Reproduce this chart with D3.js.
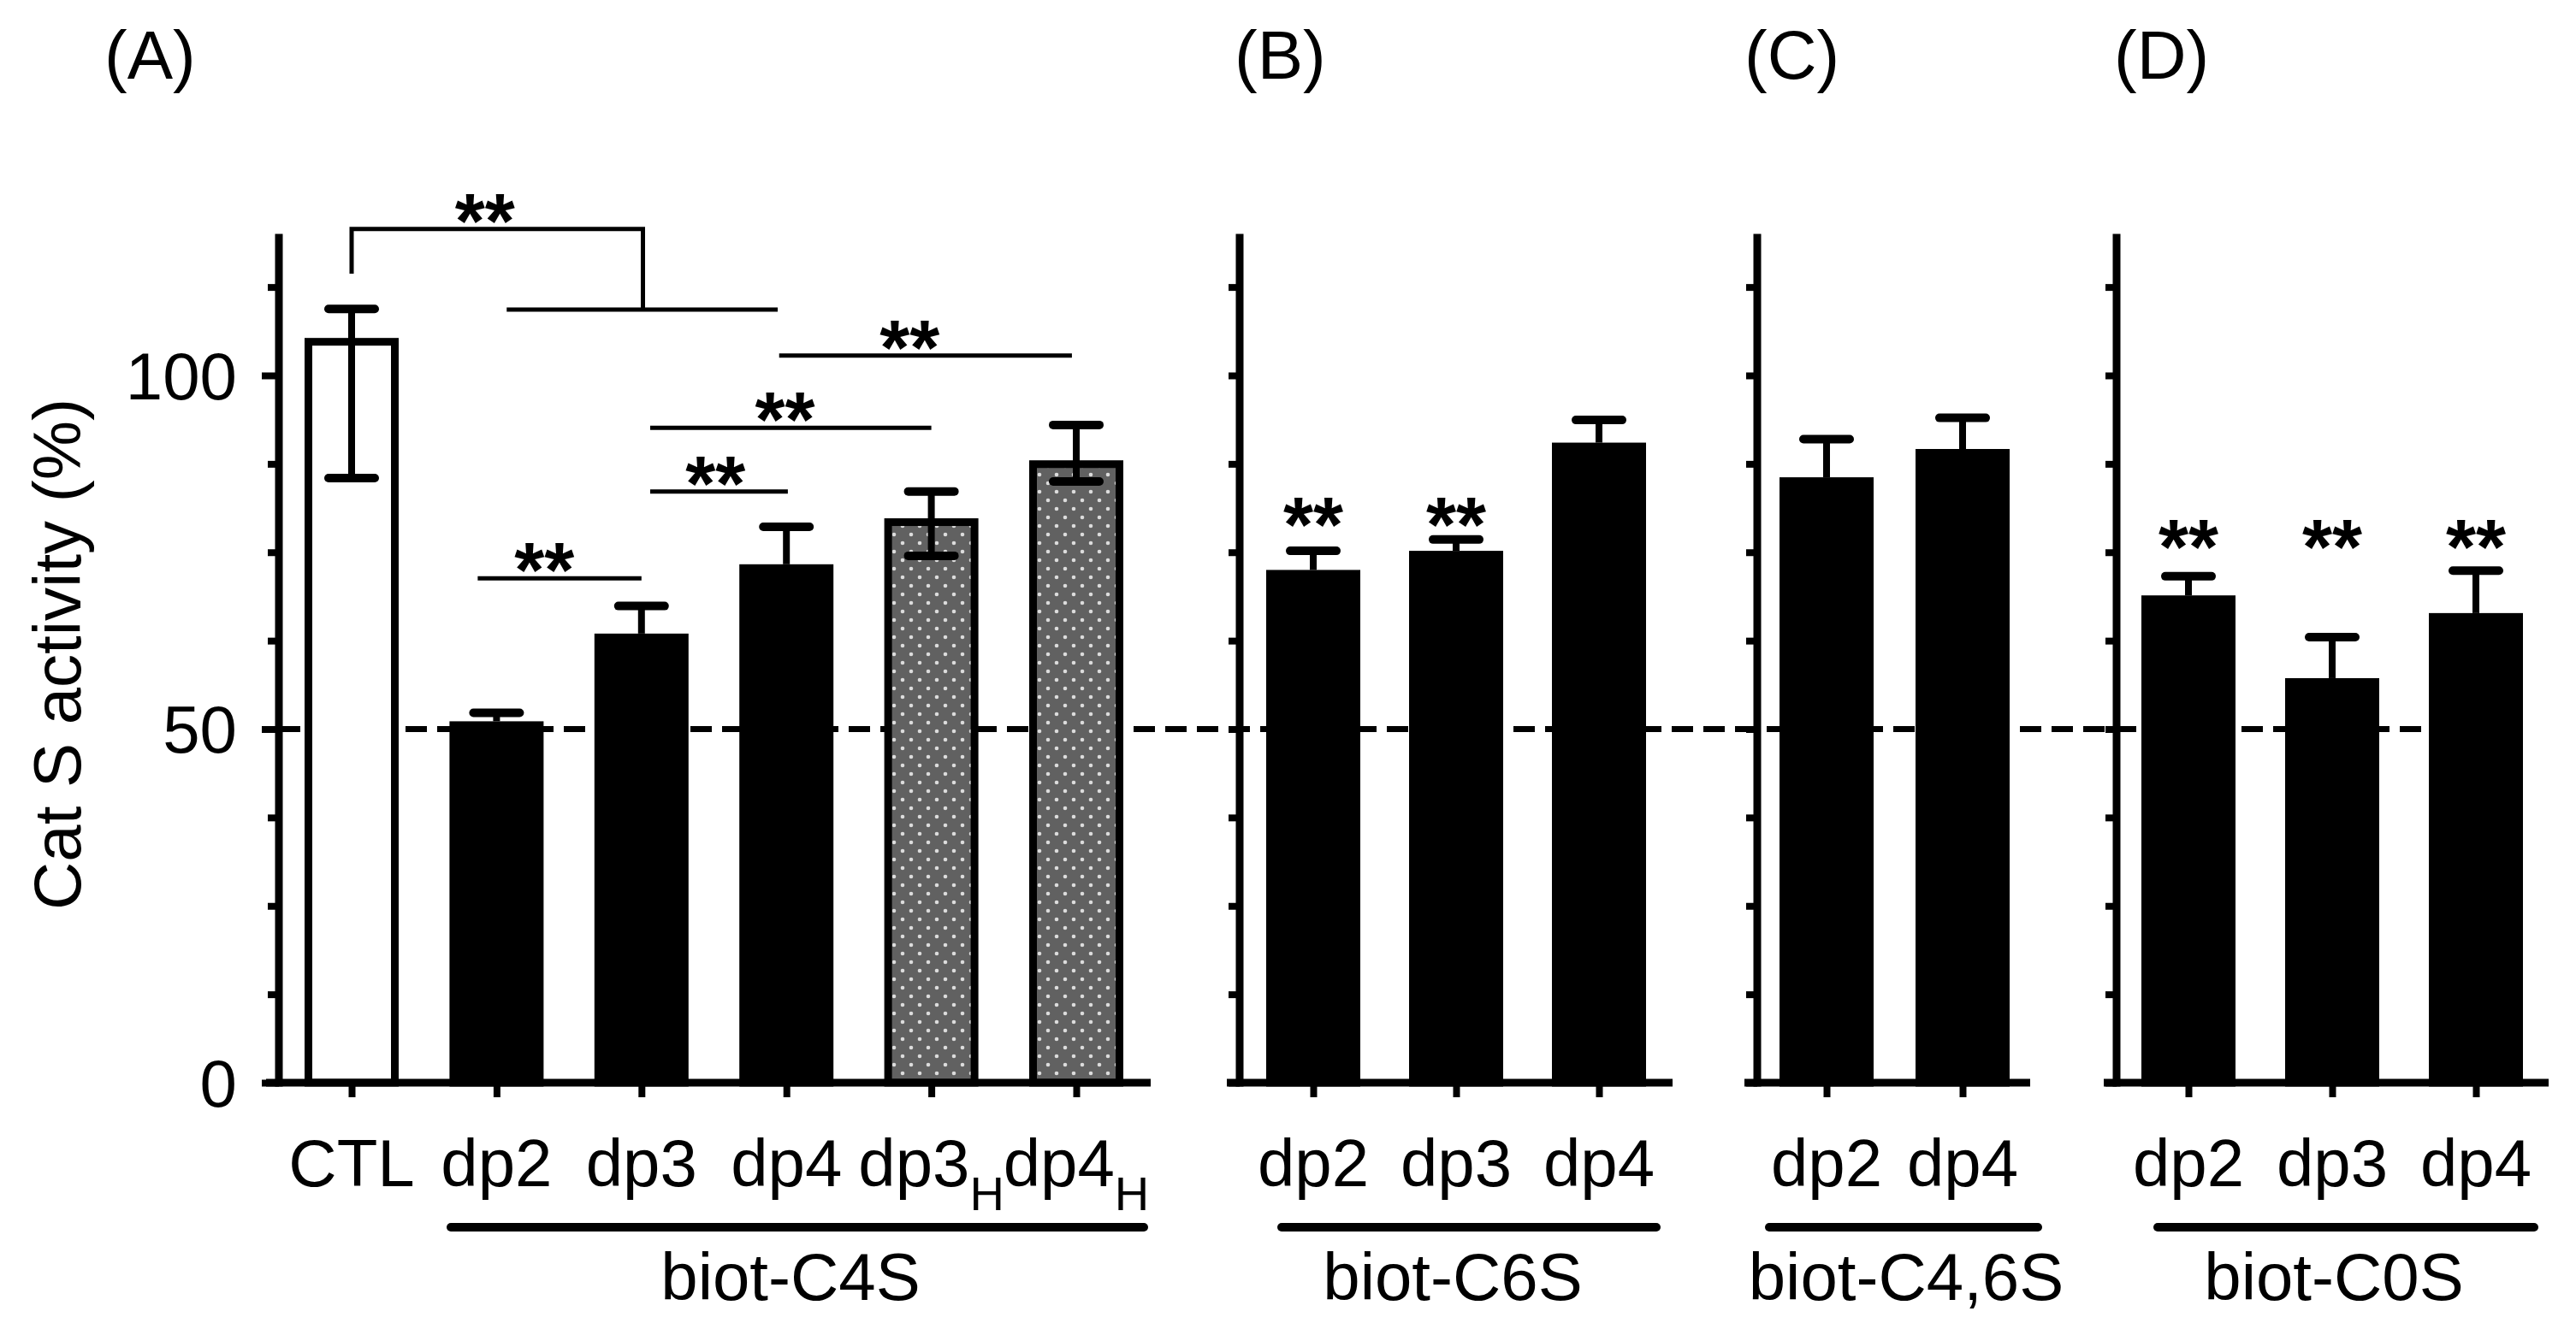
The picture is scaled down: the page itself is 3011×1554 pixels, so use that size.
<!DOCTYPE html>
<html lang="en">
<head>
  <meta charset="UTF-8" />
  <title>Cat S activity</title>
  <script src="https://d3js.org/d3.v7.min.js"></script>
  <style>
    body { margin: 0; background: #fff; }
    svg { display: block; }
    text { font-family: 'Liberation Sans', Arial, sans-serif; fill: #000; }
  </style>
</head>
<body>
  <svg id="chart"></svg>

  <script>
    // ---- data ----
    const catsA  = ["CTL", "dp2", "dp3", "dp4", "dp3_H", "dp4_H"];
    const meanA  = [105.3, 51.1, 63.5, 73.3, 79.8, 88.0];
    const upperA = [109.4, 52.3, 67.4, 78.6, 83.6, 93.0];
    const lowerA = [85.5, null, null, null, 74.5, 85.0];

    const catsB  = ["dp2", "dp3", "dp4"];
    const meanB  = [72.5, 75.2, 90.5];
    const upperB = [75.2, 76.8, 93.7];

    const catsC  = ["dp2", "dp4"];
    const meanC  = [85.6, 89.6];
    const upperC = [91.0, 94.0];

    const catsD  = ["dp2", "dp3", "dp4"];
    const meanD  = [68.9, 57.2, 66.4];
    const upperD = [71.6, 63.0, 72.4];

    const panelNames = ["(A)", "(B)", "(C)", "(D)"];
    const groupNames = ["biot-C4S", "biot-C6S", "biot-C4,6S", "biot-C0S"];

    const yTicks  = d3.range(0, 120, 12.5);
    const yLabels = [0, 50, 100];
    const refLevel = 50;

    // panel A comparisons: [from index, to index, level, star index]
    const sigA = [
      [0.87, 2.0, 71.3, 1.33],
      [2.06, 3.01, 83.6, 2.51],
      [2.06, 4.0, 92.6, 2.99],
      [2.95, 4.97, 102.8, 3.85]
    ];
    // CTL vs the dp2..dp4 group
    const bracketA = { leg: 114.4, top: 120.7, to: 2.01, drop: 109.3, span: [1.07, 2.94], star: 0.92 };

    const starsB = ["dp2", "dp3"], starLevelB = 75.1;
    const starsD = ["dp2", "dp3", "dp4"], starLevelD = 72.0;

    // ---- layout ----
    const W = 3011, H = 1554;
    const barW = 101, barStroke = 9, axisStroke = 9;
    const fontSize = 78;

    const svg = d3.select("#chart").attr("width", W).attr("height", H);
    const y = d3.scaleLinear().domain([0, 120]).range([1266, 273.6]);

    const panels = [
      { cats: catsA, mean: meanA, upper: upperA, lower: lowerA, axisX: 326, range: [411, 1258], xEnd: 1345, line: [527, 1337], groupX: 924, labelX: 122, ticks: true },
      { cats: catsB, mean: meanB, upper: upperB, lower: null, axisX: 1449, range: [1535, 1869], xEnd: 1955, line: [1498, 1936], groupX: 1698, labelX: 1443 },
      { cats: catsC, mean: meanC, upper: upperC, lower: null, axisX: 2054, range: [2135, 2294], xEnd: 2373, line: [2068, 2382], groupX: 2228, labelX: 2039 },
      { cats: catsD, mean: meanD, upper: upperD, lower: null, axisX: 2474, range: [2558, 2894], xEnd: 2979, line: [2522, 2962], groupX: 2728, labelX: 2471 }
    ];
    panels.forEach(p => { p.x = d3.scalePoint().domain(p.cats).range(p.range); });

    const barStyle = { "CTL": "#fff", "dp3_H": "url(#dots)", "dp4_H": "url(#dots)" };

    // dotted fill
    const pat = svg.append("defs").append("pattern")
      .attr("id", "dots").attr("width", 20).attr("height", 20)
      .attr("patternUnits", "userSpaceOnUse");
    pat.append("rect").attr("width", 20).attr("height", 20).attr("fill", "#616161");
    pat.append("circle").attr("cx", 5).attr("cy", 5).attr("r", 2.3).attr("fill", "#dcdcdc");
    pat.append("circle").attr("cx", 15).attr("cy", 15).attr("r", 2.3).attr("fill", "#dcdcdc");

    // dashed reference line at 50%, behind the bars
    svg.append("line")
      .attr("x1", panels[0].axisX).attr("x2", 2850)
      .attr("y1", y(refLevel)).attr("y2", y(refLevel))
      .attr("stroke", "#000").attr("stroke-width", 7)
      .attr("stroke-dasharray", "25,12");

    panels.forEach((p, pi) => {
      const g = svg.append("g");
      const rows = p.cats.map((c, i) => ({
        cat: c, mean: p.mean[i], upper: p.upper[i], lower: p.lower ? p.lower[i] : null
      }));

      // bars
      g.selectAll("rect.bar").data(rows).join("rect")
        .attr("class", "bar")
        .attr("x", d => p.x(d.cat) - barW / 2)
        .attr("y", d => y(d.mean) + barStroke / 2)
        .attr("width", barW)
        .attr("height", d => y(0) - y(d.mean) - barStroke / 2)
        .attr("fill", d => barStyle[d.cat] || "#000")
        .attr("stroke", "#000").attr("stroke-width", barStroke);

      // error bars
      const eb = g.selectAll("g.err").data(rows).join("g").attr("class", "err")
        .attr("stroke", "#000");
      eb.append("line")
        .attr("x1", d => p.x(d.cat)).attr("x2", d => p.x(d.cat))
        .attr("y1", d => y(d.upper))
        .attr("y2", d => d.lower == null ? y(d.mean) : y(d.lower))
        .attr("stroke-width", 8);
      eb.append("line")
        .attr("x1", d => p.x(d.cat) - 27).attr("x2", d => p.x(d.cat) + 27)
        .attr("y1", d => y(d.upper)).attr("y2", d => y(d.upper))
        .attr("stroke-width", 10).attr("stroke-linecap", "round");
      eb.filter(d => d.lower != null).append("line")
        .attr("x1", d => p.x(d.cat) - 27).attr("x2", d => p.x(d.cat) + 27)
        .attr("y1", d => y(d.lower)).attr("y2", d => y(d.lower))
        .attr("stroke-width", 10).attr("stroke-linecap", "round");

      // y axis
      const ya = g.append("g")
        .attr("transform", `translate(${p.axisX},0)`)
        .call(d3.axisLeft(y).tickValues(yTicks).tickSizeOuter(0).tickSize(12).tickPadding(37)
          .tickFormat(d => p.ticks && yLabels.includes(d) ? d : ""));
      ya.select(".domain").attr("d", `M0,${y(0) + axisStroke / 2}V${y(120)}`)
        .attr("stroke-width", axisStroke);
      ya.selectAll(".tick line").attr("stroke-width", 8)
        .attr("x2", d => p.ticks && yLabels.includes(d) ? -20 : -13);
      ya.selectAll(".tick text").attr("font-size", fontSize).attr("font-family", null).attr("dy", "0.35em");

      // x axis
      const xa = g.append("g")
        .attr("transform", `translate(0,${y(0)})`)
        .call(d3.axisBottom(p.x).tickSizeOuter(0).tickSize(17).tickFormat(""));
      xa.select(".domain").attr("d", `M${p.axisX - 15},0H${p.xEnd}`).attr("stroke-width", axisStroke);
      xa.selectAll(".tick line").attr("stroke-width", 8);

      // category labels, "_H" drawn as subscript
      const lab = g.selectAll("text.cat").data(p.cats).join("text")
        .attr("class", "cat")
        .attr("x", d => p.x(d)).attr("y", 1387)
        .attr("text-anchor", "middle").attr("font-size", fontSize);
      lab.append("tspan").text(d => d.split("_")[0]);
      lab.filter(d => d.includes("_")).append("tspan")
        .attr("dy", 28).attr("font-size", 56).text(d => d.split("_")[1]);

      // group bar + name
      g.append("line")
        .attr("x1", p.line[0]).attr("x2", p.line[1]).attr("y1", 1435).attr("y2", 1435)
        .attr("stroke", "#000").attr("stroke-width", 10).attr("stroke-linecap", "round");
      g.append("text")
        .attr("x", p.groupX).attr("y", 1520).attr("text-anchor", "middle")
        .attr("font-size", fontSize).text(groupNames[pi]);

      // panel letter
      g.append("text")
        .attr("x", p.labelX).attr("y", 92).attr("font-size", 80).text(panelNames[pi]);
    });

    // y axis title
    svg.append("text")
      .attr("transform", "translate(94,765) rotate(-90)")
      .attr("text-anchor", "middle").attr("font-size", fontSize)
      .text("Cat S activity (%)");

    // significance marks
    const star = (x, yy) => svg.append("text")
      .attr("x", x).attr("y", yy).attr("text-anchor", "middle")
      .attr("font-size", 90).attr("font-weight", "bold").text("**");

    const pA = panels[0];
    const xi = d3.scaleLinear().domain([0, pA.cats.length - 1]).range(pA.range);
    const sig = svg.append("g").attr("stroke", "#000").attr("stroke-width", 5).attr("fill", "none");

    sigA.forEach(([a, b, lvl, s]) => {
      sig.append("line").attr("x1", xi(a)).attr("x2", xi(b)).attr("y1", y(lvl)).attr("y2", y(lvl));
      star(xi(s), y(lvl) + 22);
    });

    sig.append("path").attr("d", d3.line()([
      [xi(0), y(bracketA.leg)], [xi(0), y(bracketA.top)],
      [xi(bracketA.to), y(bracketA.top)], [xi(bracketA.to), y(bracketA.drop)]
    ]));
    sig.append("line")
      .attr("x1", xi(bracketA.span[0])).attr("x2", xi(bracketA.span[1]))
      .attr("y1", y(bracketA.drop)).attr("y2", y(bracketA.drop));
    star(xi(bracketA.star), y(bracketA.top) + 22);

    starsB.forEach(c => star(panels[1].x(c), y(starLevelB)));
    starsD.forEach(c => star(panels[3].x(c), y(starLevelD)));
  </script>
</body>
</html>
